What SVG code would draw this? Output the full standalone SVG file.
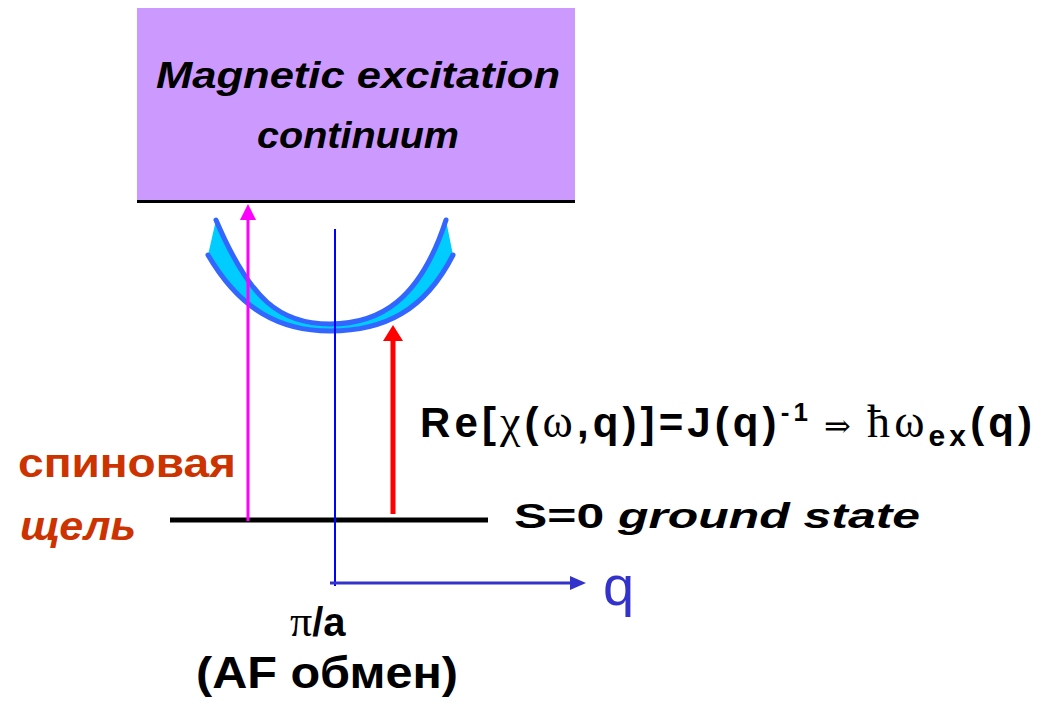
<svg xmlns="http://www.w3.org/2000/svg" width="1053" height="708" viewBox="0 0 1053 708">
<style>
.t{font-family:"Liberation Sans","DejaVu Sans",sans-serif;font-weight:bold;fill:#000}
.s{font-family:"Liberation Serif","DejaVu Serif",serif;font-weight:normal}
.ru{fill:#cc3300}
.band{fill:none;stroke:#3366ff;stroke-width:5;stroke-linecap:round}
</style>
<g id="continuum">
<rect x="137" y="8" width="438" height="192" fill="#cc99ff"/>
<line x1="137" y1="201.5" x2="575" y2="201.5" stroke="#000" stroke-width="3"/>
<text class="t" x="358" y="88" font-size="36" font-style="italic" text-anchor="middle" textLength="404" lengthAdjust="spacingAndGlyphs">Magnetic excitation</text>
<text class="t" x="358" y="148" font-size="36" font-style="italic" text-anchor="middle" textLength="202" lengthAdjust="spacingAndGlyphs">continuum</text>
</g>
<g id="band">
<path d="M216,220 C250,300 280,324 330,324 C380,324 420,300 446,220 L453,255 C425,310 385,331 330,331 C280,331 240,310 208,255 Z" fill="#00ccff"/>
<path class="band" d="M216,220 C250,300 280,324 330,324 C380,324 420,300 446,220"/>
<path class="band" d="M208,255 C240,310 280,331 330,331 C385,331 425,310 453,255"/>
</g>
<g id="ground">
<line x1="170" y1="520" x2="488" y2="520" stroke="#000" stroke-width="5"/>
<text class="t" x="514" y="528" font-size="35" textLength="406" lengthAdjust="spacingAndGlyphs">S=0 <tspan font-style="italic">ground state</tspan></text>
</g>
<g id="gap-label">
<text class="t ru" x="18" y="477" font-size="40" textLength="218" lengthAdjust="spacingAndGlyphs">спиновая</text>
<text class="t ru" x="20" y="540" font-size="40" font-style="italic" textLength="116" lengthAdjust="spacingAndGlyphs">щель</text>
</g>
<g id="formula">
<text class="t" x="420" y="437" font-size="42" textLength="612" lengthAdjust="spacing">Re[<tspan class="s" font-size="46">χ</tspan>(<tspan class="s" font-size="46">ω</tspan>,q)]=J(q)<tspan font-size="26" dy="-16">-1</tspan><tspan dy="16" class="s" font-size="32"> ⇒ </tspan><tspan class="s" font-size="46">ħω</tspan><tspan font-size="30" dy="9">ex</tspan><tspan dy="-9">(q)</tspan></text>
</g>
<g id="axis-labels">
<text x="603" y="605" font-size="56" style="fill:#3333cc;font-family:'Liberation Sans',sans-serif">q</text>
<text class="t" x="290" y="636" font-size="40"><tspan class="s" font-size="44">π</tspan>/a</text>
<text class="t" x="196" y="688" font-size="44" textLength="262" lengthAdjust="spacingAndGlyphs">(AF обмен)</text>
</g>
<g id="connectors">
<line x1="335" y1="229" x2="335" y2="586" stroke="#0000ff" stroke-width="2"/>
<line x1="330" y1="583" x2="572" y2="583" stroke="#3333cc" stroke-width="3"/>
<path d="M570,576 L586,583 L570,590 Z" fill="#3333cc"/>
<line x1="248" y1="521" x2="248" y2="216" stroke="#ff00ff" stroke-width="3"/>
<path d="M240,220 L248,204 L256,220 Z" fill="#ff00ff"/>
<line x1="393" y1="514" x2="393" y2="338" stroke="#ff0000" stroke-width="5"/>
<path d="M383,341 L393,325 L403,341 Z" fill="#ff0000"/>
</g>
</svg>
